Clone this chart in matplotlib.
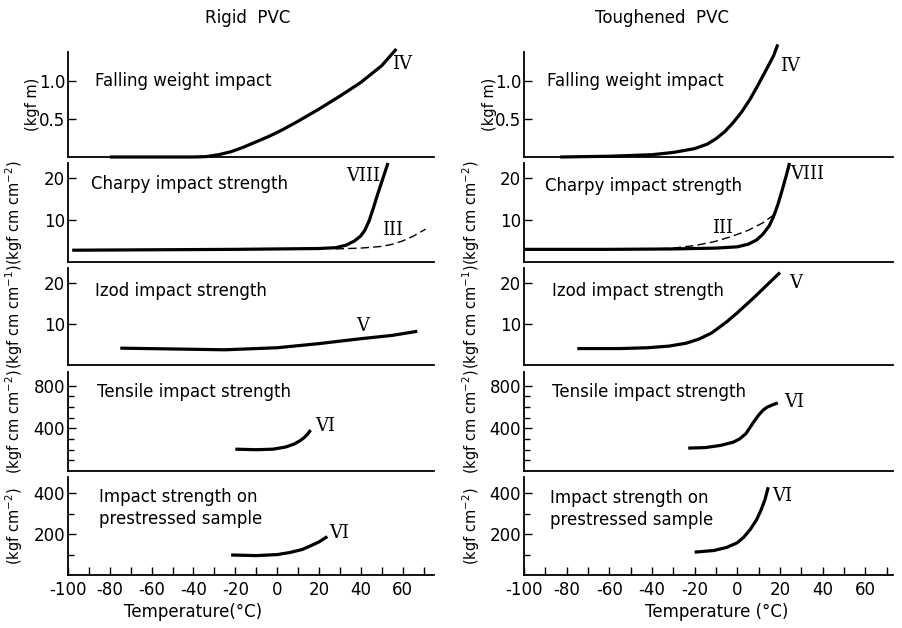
import matplotlib
matplotlib.use("Agg")
import matplotlib.pyplot as plt
from matplotlib.ticker import FixedLocator

plt.rcParams["font.family"] = "DejaVu Sans"
plt.rcParams["axes.unicode_minus"] = False

# ---- data (temperature in degC) ----
col_titles = ["Rigid  PVC", "Toughened  PVC"]
panel_names = ["Falling weight impact", "Charpy impact strength", "Izod impact strength",
               "Tensile impact strength", "Impact strength on\nprestressed sample"]
y_units = ["(kgf m)", "(kgf cm cm$^{-2}$)", "(kgf cm cm$^{-1}$)",
           "(kgf cm cm$^{-2}$)", "(kgf cm$^{-2}$)"]
x_ticks = [-100, -80, -60, -40, -20, 0, 20, 40, 60]

# rigid PVC
fw_r_t = [-80, -60, -40, -34, -28, -22, -16, -10, -4, 2, 10, 20, 30, 40, 50, 57]
fw_r_v = [0, 0, 0, 0.005, 0.03, 0.07, 0.13, 0.2, 0.27, 0.35, 0.47, 0.63, 0.80, 0.98, 1.20, 1.42]
ch_r_t = [-98, -60, -20, 0, 20, 28, 33, 37, 40, 42, 44, 46, 48, 50, 52, 53]
ch_r_v = [2.8, 2.9, 3.0, 3.1, 3.2, 3.4, 4.0, 5.0, 6.2, 7.6, 9.8, 12.8, 16.0, 19.0, 22.0, 23.5]
ch3_r_t = [28, 40, 50, 55, 60, 65, 71]
ch3_r_v = [3.1, 3.3, 3.7, 4.2, 5.0, 6.1, 7.8]
iz_r_t = [-75, -50, -25, 0, 20, 40, 55, 67]
iz_r_v = [4.1, 3.9, 3.7, 4.2, 5.2, 6.4, 7.2, 8.2]
te_r_t = [-20, -10, -2, 4, 8, 11, 13, 14.5, 16]
te_r_v = [205, 200, 205, 225, 252, 285, 315, 345, 385]
ps_r_t = [-22, -10, 0, 6, 12, 16, 20, 24]
ps_r_v = [98, 95, 100, 110, 125, 143, 162, 188]

# toughened PVC
fw_t_t = [-83, -60, -40, -30, -20, -14, -10, -6, -2, 2, 6, 10, 14, 17, 19]
fw_t_v = [0, 0.01, 0.03, 0.06, 0.11, 0.17, 0.24, 0.33, 0.45, 0.59, 0.76, 0.96, 1.17, 1.33, 1.48]
ch_t_t = [-100, -60, -30, -10, 0, 5, 9, 12, 15, 17, 19, 21, 23, 24.5]
ch_t_v = [3.0, 3.0, 3.1, 3.3, 3.6, 4.2, 5.2, 6.6, 8.6, 10.8, 13.6, 17.0, 20.6, 23.5]
ch3_t_t = [-42, -30, -20, -11, -3, 5, 12, 18]
ch3_t_v = [3.0, 3.3, 3.9, 4.8, 6.0, 7.5, 9.3, 11.5]
iz_t_t = [-75, -55, -42, -32, -24, -18, -12, -5, 0, 8, 14, 20]
iz_t_v = [4.0, 4.0, 4.2, 4.6, 5.3, 6.3, 7.8, 10.5, 12.7, 16.5, 19.5, 22.5]
te_t_t = [-23, -15, -8, -2, 1, 4, 6, 8, 10, 12, 14, 17, 19]
te_t_v = [215, 220, 240, 270, 300, 350, 410, 470, 525, 570, 600, 625, 640]
ps_t_t = [-20, -11, -5, 0, 3, 6, 9, 11, 13, 14.5]
ps_t_v = [112, 120, 135, 158, 185, 222, 270, 315, 370, 430]

curves = [
    [(fw_r_t, fw_r_v), (ch_r_t, ch_r_v), (iz_r_t, iz_r_v), (te_r_t, te_r_v), (ps_r_t, ps_r_v)],
    [(fw_t_t, fw_t_v), (ch_t_t, ch_t_v), (iz_t_t, iz_t_v), (te_t_t, te_t_v), (ps_t_t, ps_t_v)],
]
dashed = [(ch3_r_t, ch3_r_v), (ch3_t_t, ch3_t_v)]

# roman numeral labels (x, y, text): IV, VIII, III, V, VI, VI
numerals = [
    [(55, 1.22, "IV"), (33, 20.5, "VIII"), (50, 7.7, "III"), (38, 9.5, "V"), (18, 420, "VI"), (25, 205, "VI")],
    [(20, 1.2, "IV"), (25, 21, "VIII"), (-12, 8, "III"), (24.5, 20, "V"), (22, 650, "VI"), (16.5, 385, "VI")],
]
name_pos = [[(-87, 1.0), (-89, 18.6), (-87, 18), (-86, 745), (-85, 327)],
            [(-89, 1.0), (-90, 18), (-87, 18), (-87, 745), (-88, 325)]]

ylims = [(0, 1.38), (0, 23.5), (0, 23.6), (0, 930), (0, 480)]
yticks = [[0.5, 1.0], [10, 20], [10, 20], [400, 800], [200, 400]]
yminor = [[], [], [], [100, 200, 300, 500, 600, 700], [100, 300]]

W, H = 903, 628
col_px = [(68, 434), (524, 893)]
row_px = [(52, 157), (163, 262), (268, 365), (372, 471), (477, 575)]
xmax = [75, 73]

fig = plt.figure(figsize=(W / 100, H / 100), dpi=100)

for c in range(2):
    x0, x1 = col_px[c]
    for r in range(5):
        top, bot = row_px[r]
        ax = fig.add_axes([x0 / W, 1 - bot / H, (x1 - x0) / W, (bot - top) / H])
        ax.patch.set_alpha(0)
        for s in ["top", "right"]:
            ax.spines[s].set_visible(False)
        ax.spines["left"].set_linewidth(1.3)
        ax.spines["bottom"].set_linewidth(1.3)
        ax.set_xlim(-100, xmax[c])
        ax.set_ylim(*ylims[r])

        t, v = curves[c][r]
        ax.plot(t, v, color="black", lw=2.3, solid_capstyle="butt",
                solid_joinstyle="round", clip_on=False)
        if r == 1:
            dt, dv = dashed[c]
            ax.plot(dt, dv, color="black", lw=1.0, ls=(0, (6, 3)), clip_on=False)

        nx, ny = name_pos[c][r]
        ax.text(nx, ny, panel_names[r], fontsize=12, ha="left", va="center",
                linespacing=1.3)
        if r == 1:
            keys = [1, 2]
        else:
            keys = [0 if r == 0 else r + 1]
        for k in keys:
            lx, ly, lt = numerals[c][k]
            ax.text(lx, ly, lt, fontsize=13, family="DejaVu Serif", ha="left", va="center")

        ax.yaxis.set_major_locator(FixedLocator(yticks[r]))
        ax.yaxis.set_minor_locator(FixedLocator(yminor[r]))
        ax.tick_params(axis="y", which="major", direction="in", length=6, width=1.0,
                       labelsize=12, pad=2)
        ax.tick_params(axis="y", which="minor", direction="in", length=4, width=1.0)
        fmt = "{:.1f}" if r == 0 else "{:g}"
        ax.set_yticklabels([fmt.format(y) for y in yticks[r]])

        if r == 4:
            ax.xaxis.set_major_locator(FixedLocator(x_ticks))
            ax.xaxis.set_minor_locator(FixedLocator(list(range(-90, 80, 20))))
            ax.tick_params(axis="x", which="both", direction="in", length=6, width=1.0,
                           labelsize=12, pad=4)
            ax.set_xticklabels([str(x) for x in x_ticks])
        else:
            ax.set_xticks([])

        # rotated unit label
        lab_x = (33 if r == 0 else 14) + c * 457
        fig.text(lab_x / W, 1 - (top + bot) / 2 / H, y_units[r], rotation=90,
                 fontsize=10.5, ha="center", va="center")

fig.text(248 / W, 1 - 18 / H, col_titles[0], fontsize=12, ha="center", va="center")
fig.text(662 / W, 1 - 18 / H, col_titles[1], fontsize=12, ha="center", va="center")
fig.text(193 / W, 1 - 612 / H, "Temperature(\u00b0C)", fontsize=12, ha="center", va="center")
fig.text(717 / W, 1 - 612 / H, "Temperature (\u00b0C)", fontsize=12, ha="center", va="center")

fig.savefig("out.png", dpi=100)
